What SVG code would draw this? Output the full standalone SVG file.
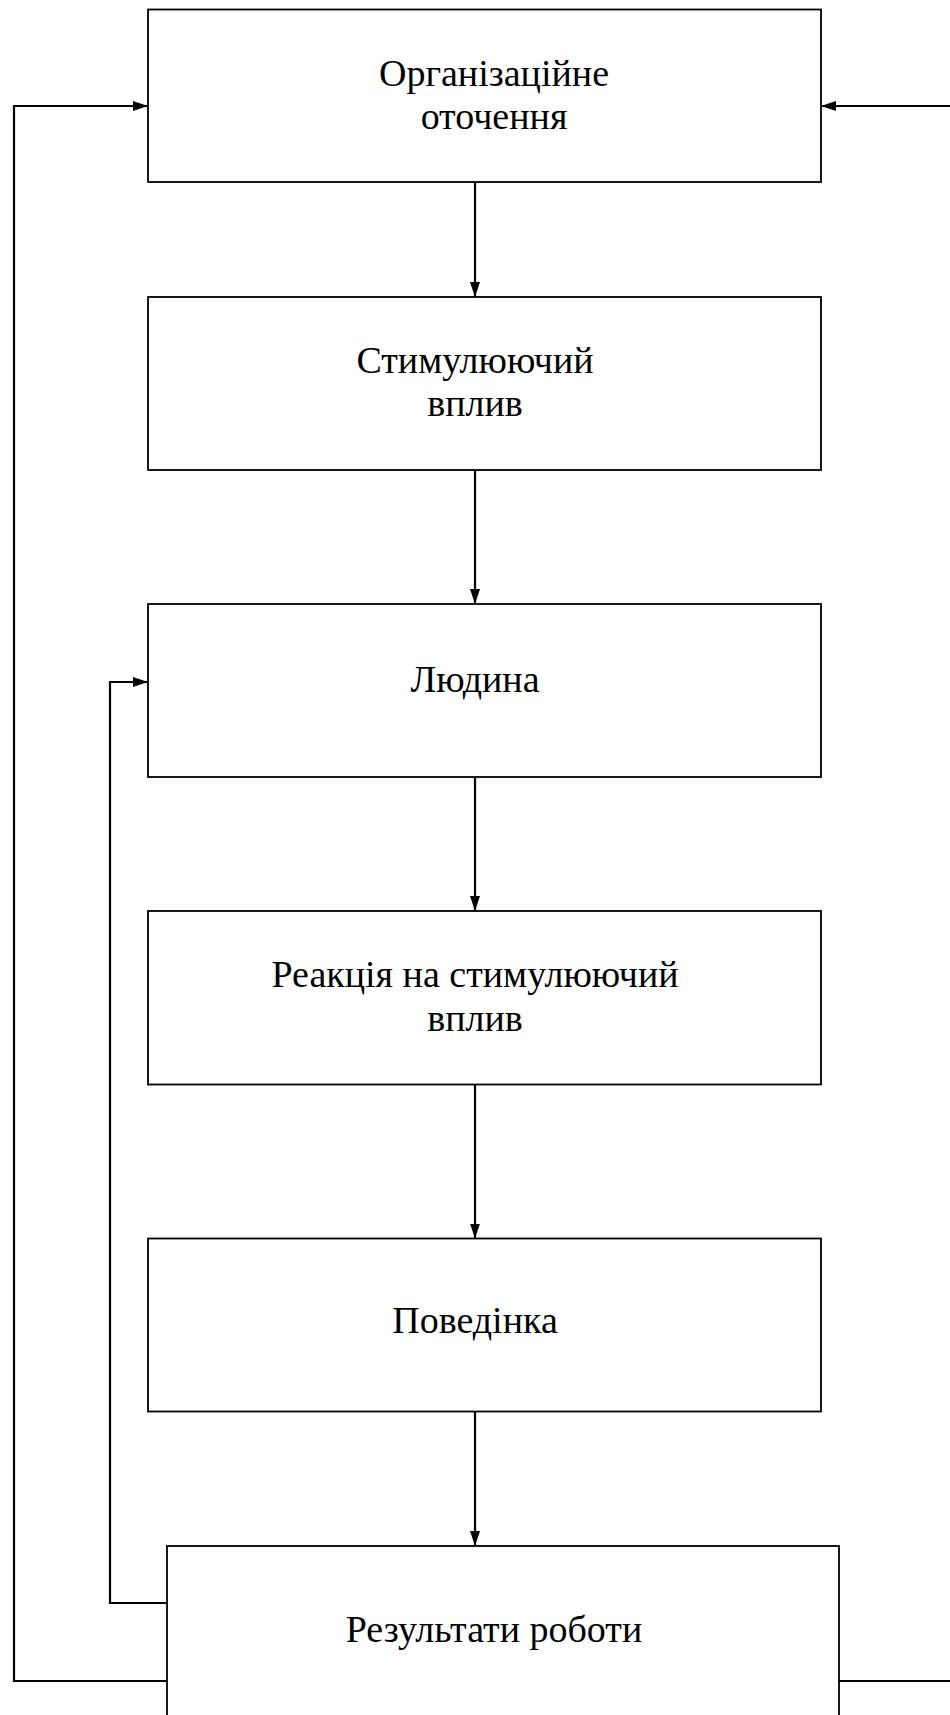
<svg xmlns="http://www.w3.org/2000/svg" width="950" height="1715" viewBox="0 0 950 1715">
<style>
.box{fill:#fff;stroke:#000;stroke-width:1.8}
.lbl{font-family:"Liberation Serif","Times New Roman",serif;font-size:38px;fill:#000;text-anchor:middle}
.con{fill:none;stroke:#000;stroke-width:2.2}
</style>
<defs>
<marker id="ah" viewBox="0 0 15 10" refX="15" refY="5" markerWidth="15" markerHeight="10" markerUnits="userSpaceOnUse" orient="auto">
<path d="M0,0 L15,5 L0,10 z" fill="#000"/>
</marker>
</defs>
<g id="n1">
<rect class="box" x="148" y="9.5" width="673" height="172.5"/>
<text class="lbl" x="494" y="86">Організаційне</text>
<text class="lbl" x="494" y="129">оточення</text>
</g>
<g id="n2">
<rect class="box" x="148" y="297" width="673" height="173"/>
<text class="lbl" x="475" y="373">Стимулюючий</text>
<text class="lbl" x="475" y="416">вплив</text>
</g>
<g id="n3">
<rect class="box" x="148" y="604" width="673" height="173"/>
<text class="lbl" x="475" y="692">Людина</text>
</g>
<g id="n4">
<rect class="box" x="148" y="911" width="673" height="173.5"/>
<text class="lbl" x="475" y="987">Реакція на стимулюючий</text>
<text class="lbl" x="475" y="1031">вплив</text>
</g>
<g id="n5">
<rect class="box" x="148" y="1238.5" width="673" height="173"/>
<text class="lbl" x="475" y="1333">Поведінка</text>
</g>
<g id="n6">
<rect class="box" x="167" y="1546" width="672" height="200"/>
<text class="lbl" x="494" y="1642">Результати роботи</text>
</g>
<g id="connectors">
<line class="con" x1="475" y1="182" x2="475" y2="297" marker-end="url(#ah)"/>
<line class="con" x1="475" y1="470" x2="475" y2="604" marker-end="url(#ah)"/>
<line class="con" x1="475" y1="777" x2="475" y2="911" marker-end="url(#ah)"/>
<line class="con" x1="475" y1="1084.5" x2="475" y2="1238.5" marker-end="url(#ah)"/>
<line class="con" x1="475" y1="1411.5" x2="475" y2="1546" marker-end="url(#ah)"/>
<polyline class="con" points="167,1681 14,1681 14,106 148,106" marker-end="url(#ah)"/>
<polyline class="con" points="167,1603 110,1603 110,682 148,682" marker-end="url(#ah)"/>
<line class="con" x1="839" y1="1681" x2="950" y2="1681"/>
<line class="con" x1="950" y1="106" x2="821" y2="106" marker-end="url(#ah)"/>
</g>
</svg>
